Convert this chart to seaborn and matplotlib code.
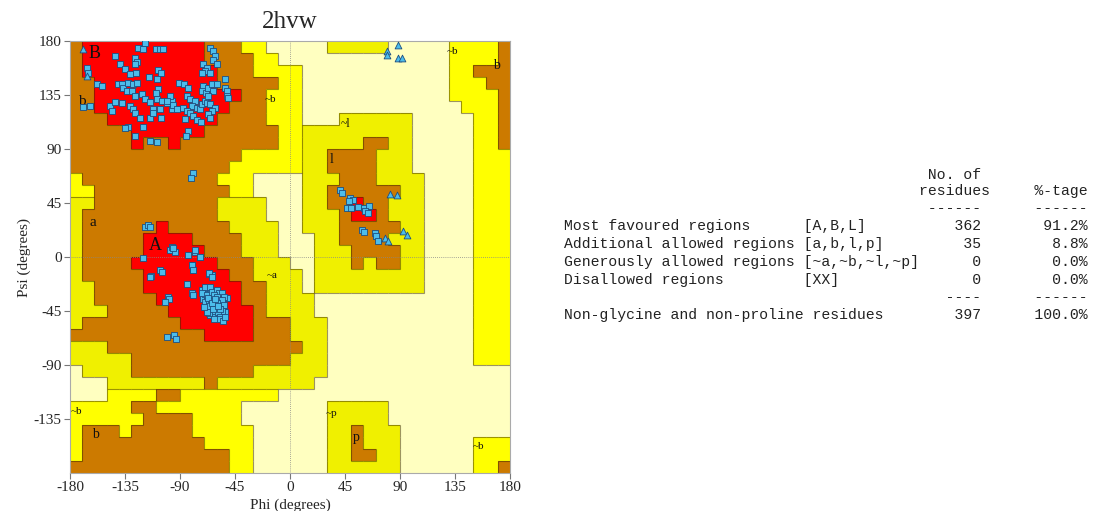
import numpy as np
import matplotlib
matplotlib.use("Agg")
import matplotlib.pyplot as plt
from matplotlib.colors import ListedColormap
from matplotlib.collections import LineCollection
import seaborn as sns

# ---------------- data ----------------
title = "2hvw"
# region map: 36 rows (psi 180 -> -180, 10 deg each) x 36 cols (phi -180 -> 180)
# R core, B allowed, Y/G generously allowed, W disallowed
region_rows = [
    "BRRRRRRRRRRBBBYYWWWWWGGGGGWWWWWYYYYB",
    "BRRRRRRRRRRBBBBYYWWWWWWWWWWWWWWYYYYB",
    "BRRRRRRRRRRRBBBYYYYWWWWWWWWWWWWYYBBB",
    "BBRRRRRRRRRRBBBBBYYWWWWWWWWWWWWYYYBB",
    "BBRRRRRRRRRRRRBBYYYWWWWWWWWWWWWYYYYB",
    "BBRRRRRRRRRRRBBBYYYWWWWWWWWWWWWWYYYB",
    "BBBRRRRRRRRRBBBBYYYWWWGGGGGGWWWWWYYB",
    "BBBBBRRRRRRBBBBBBYYGGGGGGGGGWWWWWYYB",
    "BBBBBRBBRBBBBBBBBYYGGGGGBBGGWWWWWYYB",
    "BBBBBBBBBBBBBBYYYYYGGBBBBGGGWWWWWYYY",
    "BBBBBBBBBBBBBYYYYYYGGBBBBGGGWWWWWYYY",
    "YBBBBBBBBBBBYYYWWWWGGGBBBGGGGWWWWYYY",
    "YYBBBBBBBBBBBYYWWWWGGBBBBBBGGWWWWYYY",
    "GGBBBBBBBBBBGGGGWWWGGBBRBBGGGWWWWYYY",
    "GBBBBBBBBBBBGGGGWWWGGGBRRBGGGWWWWYYY",
    "GBBBBBBRBBBBBGGGGWWGGGBBBBBGGWWWWYYY",
    "GBBBBBRRRRBBBBGGGWWWGGBBBBGGGWWWWYYY",
    "GBBBBBRRRRRBBBGGGWWWGGGBBBBGGWWWWYYY",
    "GBBBBRRRRRRRBBBGGGWWGGGBGBBGGWWWWYYY",
    "GBBBBBRRRRRRRBBGGGGWGGGGGGGGGWWWWYYY",
    "GGBBBBRRRRRRRRBBGGGWGGGGGGGGGWWWWYYY",
    "GGBBBBBRRRRRRRBBGGGGWWWWWWWWWWWWWYYY",
    "GGGBBBBBRRRRRRRBGGGGWWWWWWWWWWWWWYYY",
    "GBBBBBBBBRRRRRRBBBGGGWWWWWWWWWWWWYYY",
    "BBBBBBBBBBBRRRRBBBGGGWWWWWWWWWWWWYYY",
    "GGGBBBBBBBBBBBBBBBBGGWWWWWWWWWWWWYYY",
    "GGGGGBBBBBBBBBBBBBGGGWWWWWWWWWWWWYYY",
    "WGGGGBBBBBBBBBBGGGGGGWWWWWWWWWWWWWWW",
    "WWWGGGGGGGGBGGGGGGGGWWWWWWWWWWWWWWWW",
    "WWWYYYYBBYYYYYYYYWWWWWWWWWWWWWWWWWWW",
    "YYYYYBBYYYYYYYWWWWWWWGGGGGWWWWWWWWWW",
    "YYYYYYBBBBYYYYWWWWWWWGGGGGWWWWWWWWWW",
    "YBBBYBBBBBYYYYYWWWWWWGGBGGGWWWWWWWWW",
    "YBBBBBBBBBBYYYYWWWWWWGGBGGGWWWWWWYYY",
    "YBBBBBBBBBBBBYYWWWWWWGGBBGGWWWWWWYYY",
    "BBBBBBBBBBBBBYYWWWWWWGGGGGGWWWWWWYYB",
]
region_codes = "WGYBR"
region_colors = ["#FFFFC0", "#F0F000", "#FFFF00", "#CC7A00", "#FF0000"]

# residues (non-Gly, non-Pro): phi, psi
res_phi = [
    -118.6, -124.1, -120.5, -109.6, -106.4, -104.2, -143.2, -126.8, -125.5, -126.8, -139.1, -135,
    -166.4, -165, -158.2, -154.1, -169.1, -163.6, -147.3, -145.9, -130.9, -126, -115.1, -107.7,
    -105.8, -108.5, -140.5, -137.7, -136.4, -132.3, -128.2, -125.5, -133.6, -129.5, -126.8, -121.4,
    -118.6, -114.5, -109.1, -105, -100.9, -96.8, -143.2, -137.7, -130.9, -128.2, -126.8, -122.7,
    -111.8, -106.4, -105.8, -132.3, -135, -120, -126.8, -114.5, -108.5, -90.6, -86.7, -83.2,
    -84.5, -81.8, -77.7, -80.5, -76.4, -73.6, -72.3, -69.6, -87.3, -84.5, -81.8, -79.1,
    -76.4, -73.1, -85.9, -83.2, -85.1, -70.9, -72.3, -68.7, -66.8, -64.1, -60, -62.7,
    -66.8, -68.2, -65.5, -61.4, -64.1, -70.9, -68.2, -69.6, -72.3, -65.5, -65.5, -62.7,
    -61.4, -62.7, -60, -53.2, -53.2, -51.3, -51.8, -50.5, -66.8, -65.5, -98.2, -100.9,
    -107.7, -109.6, -79.1, -81.3, -114.5, -111.8, -96.8, -95.4, -92.2,
    -118.6, -115.9, -114.5, -98.2, -94.1, -83.2, -77.7, -73.6, -96.8, -95.5,
    -120.5, -106.4, -105, -113.7, -114.5, -80.5, -79, -84.6, -80.5, -79.6, -66, -64,
    -100, -98.7, -102.3, -100.4, -94.9, -93.3,
    -72.3, -68.2, -65.5, -70.9, -68.2, -64.1, -62.7, -68.2, -65.5, -64.1, -61.4, -66.8, -69.6,
    -69.3, -65.2, -72, -67.9, -63.8, -59.7, -58.4, -55.7, -51.6, -54.3, -69.3, -66.6,
    -63.8, -61.1, -58.4, -57, -67.9, -63.8, -61.1, -57, -54.3, -65.2, -59.7, -55.7,
    -66.6, -62.5, -58.4, -55.7, -52.9, -77.5, -73.4, -80, -79, -66.6, -63.8,
    -60, -62, -64, -66, -60, -58, -56, -63, -61, -59, -57, -65, -67, -62, -60, -56,
    -54, -58, -62, -60, -64, -66, -68, -70, -55, -53, -57, -61, -63, -59,
    40.9, 42.3, 49.1, 51.8, 48.5, 46.9, 49.9, 55.9, 60.5, 64.9, 61.4, 63.5, 58.6, 60.5,
    69.5, 70.4, 72.3,
]
res_psi = [
    178.6, 174.4, 173.1, 173.1, 173.1, 173.1, 167.5, 166.1, 162.8, 161.1, 160.6, 156.4,
    157.8, 153.6, 144.4, 142.5, 125, 125.8, 125.8, 121.7, 152.2, 153.6, 150, 155.6,
    153.6, 148.1, 143.9, 143.9, 141.1, 145.3, 143.9, 145.3, 138.3, 138.3, 134.2, 135.6,
    131.4, 129.4, 131.4, 130, 128.6, 130, 129.4, 128.6, 125.8, 123.1, 120.3, 116.1,
    123.1, 123.1, 115.6, 108.3, 107.2, 108.3, 100.8, 96.7, 96.1, 145.3, 144.4, 141.1,
    134.2, 131.4, 130, 125.8, 124.4, 123.1, 127.2, 130, 124.4, 121.7, 120.3, 117.5,
    113.9, 112.8, 114.7, 105, 100.8, 142.5, 138.3, 136.9, 141.1, 143.9, 143.9, 138.3,
    134.2, 128.6, 127.2, 124.4, 121.7, 160.6, 157.8, 155, 153.6, 153.6, 174.4, 171.7,
    167.5, 163.9, 161.1, 148.1, 141.1, 138.3, 134.2, 132.2, 118.9, 116.1, 134.2, 130,
    139.7, 136.9, 70.3, 65.6, 116, 120, 123, 127, 123,
    25.3, 26.7, 25.3, 5.8, 4.4, 1.7, 4.4, 0.3, 8.6, 7.2,
    -0.8, -10.6, -12.5, -16.1, -16.7, -6.9, -11.1, -22.8, -30, -32, -13.9, -15.3,
    -33.3, -35.3, -37.5, -66.7, -65.3, -68.6,
    -27.8, -29.2, -27.8, -34.7, -36.1, -33.3, -37.5, -40.3, -43.1, -45.8, -48.6, -44.4, -30.6,
    -24.7, -24.7, -30.3, -31.7, -28.9, -27.5, -30.3, -30.3, -34.4, -33, -37.2, -38.6,
    -35.8, -37.2, -35.8, -38.6, -42.8, -44.2, -45.6, -46.9, -48.3, -48.3, -49.7, -49.7,
    -45.6, -41.4, -42.8, -42.8, -45.6, 5.8, 0.3, -6.7, -11, -13.6, -16.4,
    -40, -42, -40, -41, -44, -40, -45, -47, -50, -46, -50, -35, -34, -32, -33, -36,
    -40, -52, -52, -38, -38, -47, -46, -42, -53, -50, -43, -35, -43, -41,
    55.6, 53.6, 49.4, 47.2, 46.7, 41.1, 40.6, 41.7, 40.6, 42.8, 38.3, 36.9, 22.2, 20.8,
    20.3, 17.5, 13.3,
]
# glycine residues (triangles)
gly_phi = [81.8, 87.3, 77.7, 80.5, 92.2, 96, 88.1, 79.1, 79.1, 88.1, 91.3, -169, -166]
gly_psi = [52.8, 51.4, 16.1, 13.3, 21.7, 18.1, 176.7, 171.7, 168.3, 166.1, 165.6, 173, 151]

# region labels: text, phi, psi, size
label_text = ["B", "b", "a", "A", "~b", "~a", "~l", "l", "~b", "b", "~b", "b", "~p", "p", "~b"]
label_phi = [-160, -170, -161, -110, -16, -15, 45, 34, 133, 169, -174.5, -159.5, 34, 54, 154]
label_psi = [170, 130, 29, 10, 131, -15, 111, 81, 171, 160, -129, -148, -130, -150, -158]
label_size = [13, 11, 11, 13, 8, 8, 8.5, 10, 8, 10, 8, 10, 8, 10, 8]

tick_vals_x = [-180, -135, -90, -45, 0, 45, 90, 135, 180]
tick_vals_y = [-135, -90, -45, 0, 45, 90, 135, 180]

# statistics table
stat_names = ["Most favoured regions", "Additional allowed regions",
              "Generously allowed regions", "Disallowed regions"]
stat_codes = ["[A,B,L]", "[a,b,l,p]", "[~a,~b,~l,~p]", "[XX]"]
stat_counts = [362, 35, 0, 0]
stat_pcts = ["91.2%", "8.8%", "0.0%", "0.0%"]
total_name = "Non-glycine and non-proline residues"
total_count = 397
total_pct = "100.0%"

# ---------------- plot ----------------
sns.set_theme(style="white")
plt.rcParams["font.family"] = ["Liberation Serif", "DejaVu Serif"]

W, H = 1095, 511
fig = plt.figure(figsize=(W / 100, H / 100), dpi=100)
ax = fig.add_axes([70 / W, 1 - 473 / H, 440 / W, 432 / H])

grid = np.array([[region_codes.index(c) for c in row] for row in region_rows])
edges = np.arange(-180, 181, 10)
psi_edges = edges[::-1]
cmap = ListedColormap(region_colors)
ax.pcolormesh(edges, psi_edges, grid, cmap=cmap, vmin=-0.5, vmax=4.5, shading="flat", zorder=0)

# boundaries between differing regions
segs = []
nr, nc = grid.shape
for j in range(nr):
    for i in range(nc - 1):
        if grid[j, i] != grid[j, i + 1]:
            x = edges[i + 1]
            segs.append([(x, psi_edges[j]), (x, psi_edges[j + 1])])
for j in range(nr - 1):
    for i in range(nc):
        if grid[j, i] != grid[j + 1, i]:
            y = psi_edges[j + 1]
            segs.append([(edges[i], y), (edges[i + 1], y)])
ax.add_collection(LineCollection(segs, colors="#3a2a00", linewidths=0.8, alpha=0.5, zorder=1))

ax.axvline(0, color="#888888", lw=0.6, ls=(0, (1, 1.5)), zorder=1.5)
ax.axhline(0, color="#888888", lw=0.6, ls=(0, (1, 1.5)), zorder=1.5)

for t, px, py, fs in zip(label_text, label_phi, label_psi, label_size):
    ax.text(px, py, t, fontsize=fs, ha="center", va="center", color="#111111", zorder=2)

sns.scatterplot(x=res_phi, y=res_psi, marker="s", s=22, color="#4CBDEB",
                edgecolor="#1E4E80", linewidth=0.6, ax=ax, zorder=3, legend=False)
sns.scatterplot(x=gly_phi, y=gly_psi, marker="^", s=24, color="#4CBDEB",
                edgecolor="#1E4E80", linewidth=0.6, ax=ax, zorder=3, legend=False)

ax.set_xlim(-180, 180)
ax.set_ylim(-180, 180)
ax.set_xticks(tick_vals_x)
ax.set_yticks(tick_vals_y)
ax.set_xticklabels([str(v) for v in tick_vals_x])
ax.set_yticklabels([str(v) for v in tick_vals_y])
ax.tick_params(direction="out", length=4, width=0.8, color="#777777", labelsize=11,
               bottom=True, left=True, pad=2)
for sp in ax.spines.values():
    sp.set_color("#aaaaaa")
    sp.set_linewidth(0.8)
ax.set_xlabel("Phi (degrees)", fontsize=11, labelpad=3)
ax.set_ylabel("Psi (degrees)", fontsize=11, labelpad=2)
fig.text(290 / W, 1 - 22 / H, title, fontsize=18, ha="center", va="center")

# statistics table (monospace)
mono = ["Liberation Mono", "DejaVu Sans Mono"]
x0 = 564 / W
lines = []
lines.append((175, " " * 41 + "No. of"))
lines.append((191, " " * 40 + "residues" + " " * 5 + "%-tage"))
lines.append((208, " " * 41 + "------" + " " * 6 + "------"))
ys = [226, 244, 262, 280]
for y, nm, cd, n, p in zip(ys, stat_names, stat_codes, stat_counts, stat_pcts):
    lines.append((y, f"{nm:<27}{cd:<13}{n:>7}{p:>12}"))
lines.append((297, " " * 43 + "----" + " " * 6 + "------"))
lines.append((315, f"{total_name:<40}{total_count:>7}{total_pct:>12}"))
for y, s in lines:
    fig.text(x0, 1 - y / H, s, family=mono, fontsize=10.6, ha="left", va="center", color="#222222")

fig.savefig("out.png", dpi=100)
